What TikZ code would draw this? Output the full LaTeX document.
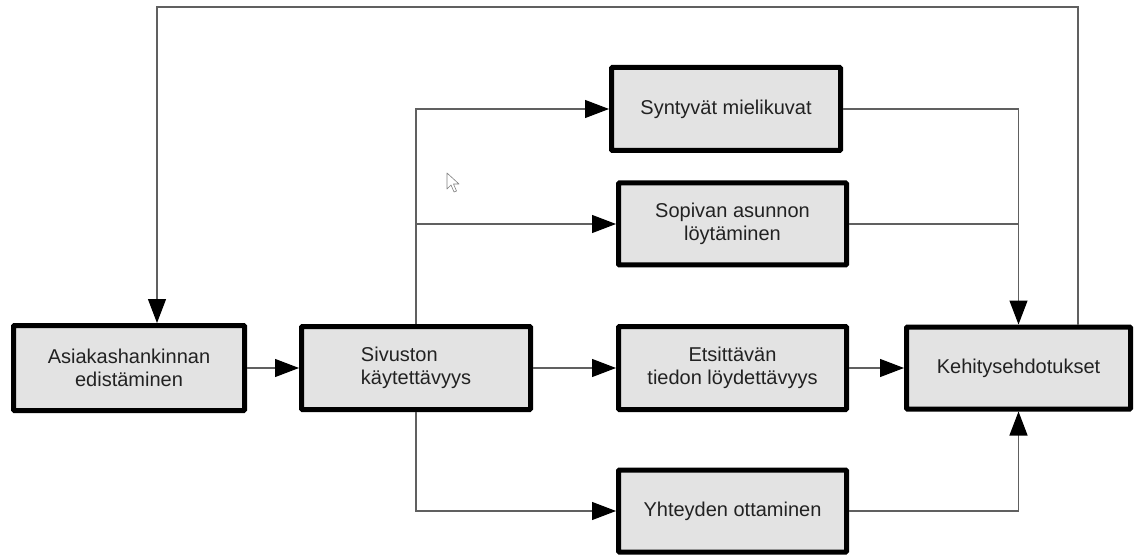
\documentclass[tikz,border=0pt]{standalone}
\usepackage{fontspec}
\setmainfont{Liberation Sans}
\usetikzlibrary{arrows.meta}
\definecolor{boxfill}{HTML}{E3E3E3}
\definecolor{txt}{HTML}{222222}
\definecolor{conn}{HTML}{606060}
\tikzset{
  box/.style={draw=black, line width=5pt, fill=boxfill, text=txt,
    rounded corners=1pt, inner sep=0pt,
    font=\fontsize{20}{23}\selectfont, align=center},
  link/.style={draw=conn, line width=1.2pt},
  arr/.style={link, -{Triangle[length=24pt,width=18pt,color=black]}},
}
\begin{document}
\begin{tikzpicture}[x=1pt,y=-1pt]
\useasboundingbox (0,0) rectangle (1141,556);
\fill[white] (0,0) rectangle (1141,556);

\node[box, minimum width=231pt, minimum height=85pt] (A) at (129,368) {Asiakashankinnan\\edistäminen};
\node[box, minimum width=229pt, minimum height=83pt, align=left] (B) at (416,368) {Sivuston\\käytettävyys};
\node[box, minimum width=229pt, minimum height=83pt] (S) at (726,109) {Syntyvät mielikuvat};
\node[box, minimum width=228pt, minimum height=82pt] (P) at (732.5,224) {Sopivan asunnon\\löytäminen};
\node[box, minimum width=228pt, minimum height=83pt] (E) at (732.5,368) {Etsittävän\\tiedon löydettävyys};
\node[box, minimum width=228pt, minimum height=82pt] (Y) at (732.5,511) {Yhteyden ottaminen};
\node[box, minimum width=224pt, minimum height=82pt] (K) at (1018.5,368) {Kehitysehdotukset};

\coordinate (loopR) at (1078,7);
\coordinate (loopL) at (157,7);

% feedback loop
\draw[arr] (K.north -| loopR) -- (loopR) -- (loopL) -- (A.north -| loopL);
% main chain
\draw[arr] (A.east) -- (B.west);
\draw[arr] (B.east) -- (E.west);
\draw[arr] (E.east) -- (K.west);
% branches from B
\draw[arr] (B.north) |- (S.west);
\draw[arr] (B.north |- P.west) -- (P.west);
\draw[arr] (B.south) |- (Y.west);
% merges into K
\draw[arr] (S.east) -| (K.north);
\draw[link] (P.east) -- (P.east -| K.north);
\draw[arr] (Y.east) -| (K.south);

% mouse pointer
\draw[draw=gray, fill=white, line width=0.6pt, line join=round]
  (447,173) -- (447,189) -- (451,185) -- (454,192) -- (456.5,191) -- (453.5,184) -- (459,184) -- cycle;
\end{tikzpicture}
\end{document}
